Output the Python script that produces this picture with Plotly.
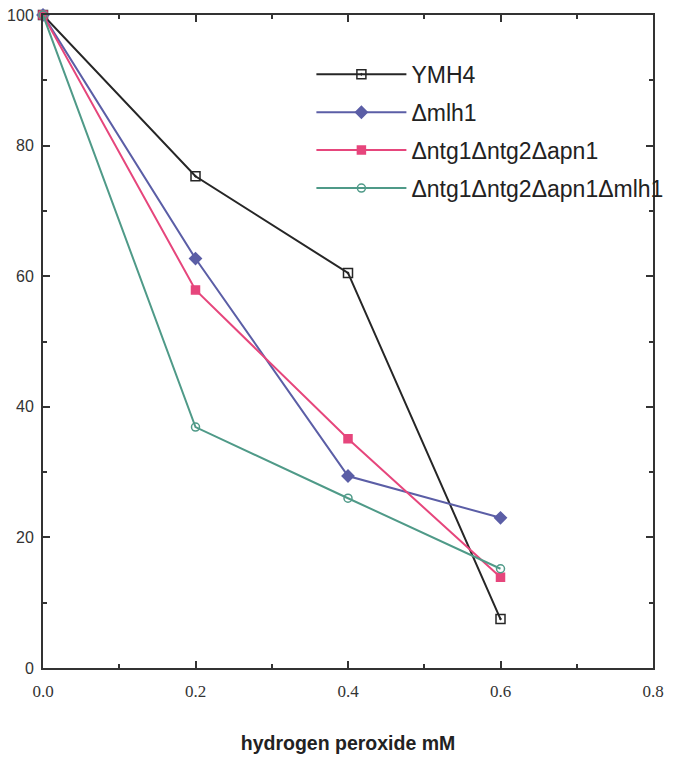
import plotly.graph_objects as go

doses = [0.0, 0.2, 0.4, 0.6]
names = ["YMH4", "Δmlh1", "Δntg1Δntg2Δapn1", "Δntg1Δntg2Δapn1Δmlh1"]
ymh4 = [100, 75.3, 60.5, 7.5]
mlh1 = [100, 62.7, 29.4, 23.0]
ntg_apn = [100, 57.9, 35.1, 13.9]
ntg_apn_mlh1 = [100, 36.9, 26.0, 15.2]
x_ticks = [0.0, 0.2, 0.4, 0.6, 0.8]
x_ticklabels = ["0.0", "0.2", "0.4", "0.6", "0.8"]
y_ticks = [0, 20, 40, 60, 80, 100]

series = [ymh4, mlh1, ntg_apn, ntg_apn_mlh1]
colors = ["#262626", "#5b5ea6", "#e6467c", "#4f9a88"]
symbols = ["square-open-dot", "diamond", "square", "circle-open"]
sizes = [9, 9, 8, 8]

fig = go.Figure()
for i, (nm, ys) in enumerate(zip(names, series)):
    fig.add_trace(go.Scatter(
        x=doses, y=ys, name=nm, mode="lines+markers",
        legendgroup=f"g{i}",
        line=dict(color=colors[i], width=2),
        marker=dict(symbol=symbols[i], size=sizes[i], color=colors[i],
                    line=dict(color=colors[i], width=1.5)),
        cliponaxis=False,
    ))

axis_common = dict(
    showline=True, linecolor="#333333", linewidth=2, mirror="allticks",
    ticks="inside", ticklen=7, tickcolor="#333333", tickwidth=1.5,
    showgrid=False, zeroline=False, automargin=False,
)
fig.update_xaxes(
    range=[0, 0.8], tickvals=x_ticks, ticktext=x_ticklabels,
    tickfont=dict(family="Liberation Serif", size=17, color="#333333"),
    minor=dict(dtick=0.1, ticks="inside", ticklen=4, tickcolor="#333333"),
    title=dict(text="hydrogen peroxide mM", standoff=36,
               font=dict(family="Liberation Sans", size=19.5, color="#222222", weight="bold")),
    ticklabelstandoff=7,
    **axis_common,
)
fig.update_yaxes(
    range=[0, 100], tickvals=y_ticks,
    tickfont=dict(family="Liberation Sans", size=16, color="#333333"),
    minor=dict(dtick=10, ticks="inside", ticklen=4, tickcolor="#333333"),
    ticklabelstandoff=4,
    **axis_common,
)
fig.update_layout(
    width=682, height=760,
    margin=dict(l=43, r=29, t=15, b=92),
    paper_bgcolor="white", plot_bgcolor="white",
    showlegend=True,
    legend=dict(
        x=0.44, y=0.942, xanchor="left", yanchor="top",
        bgcolor="rgba(0,0,0,0)", itemwidth=90,
        font=dict(family="Liberation Sans", size=23, color="#222222"),
        tracegroupgap=5, traceorder="grouped",
    ),
)
fig.write_html("out.html")
